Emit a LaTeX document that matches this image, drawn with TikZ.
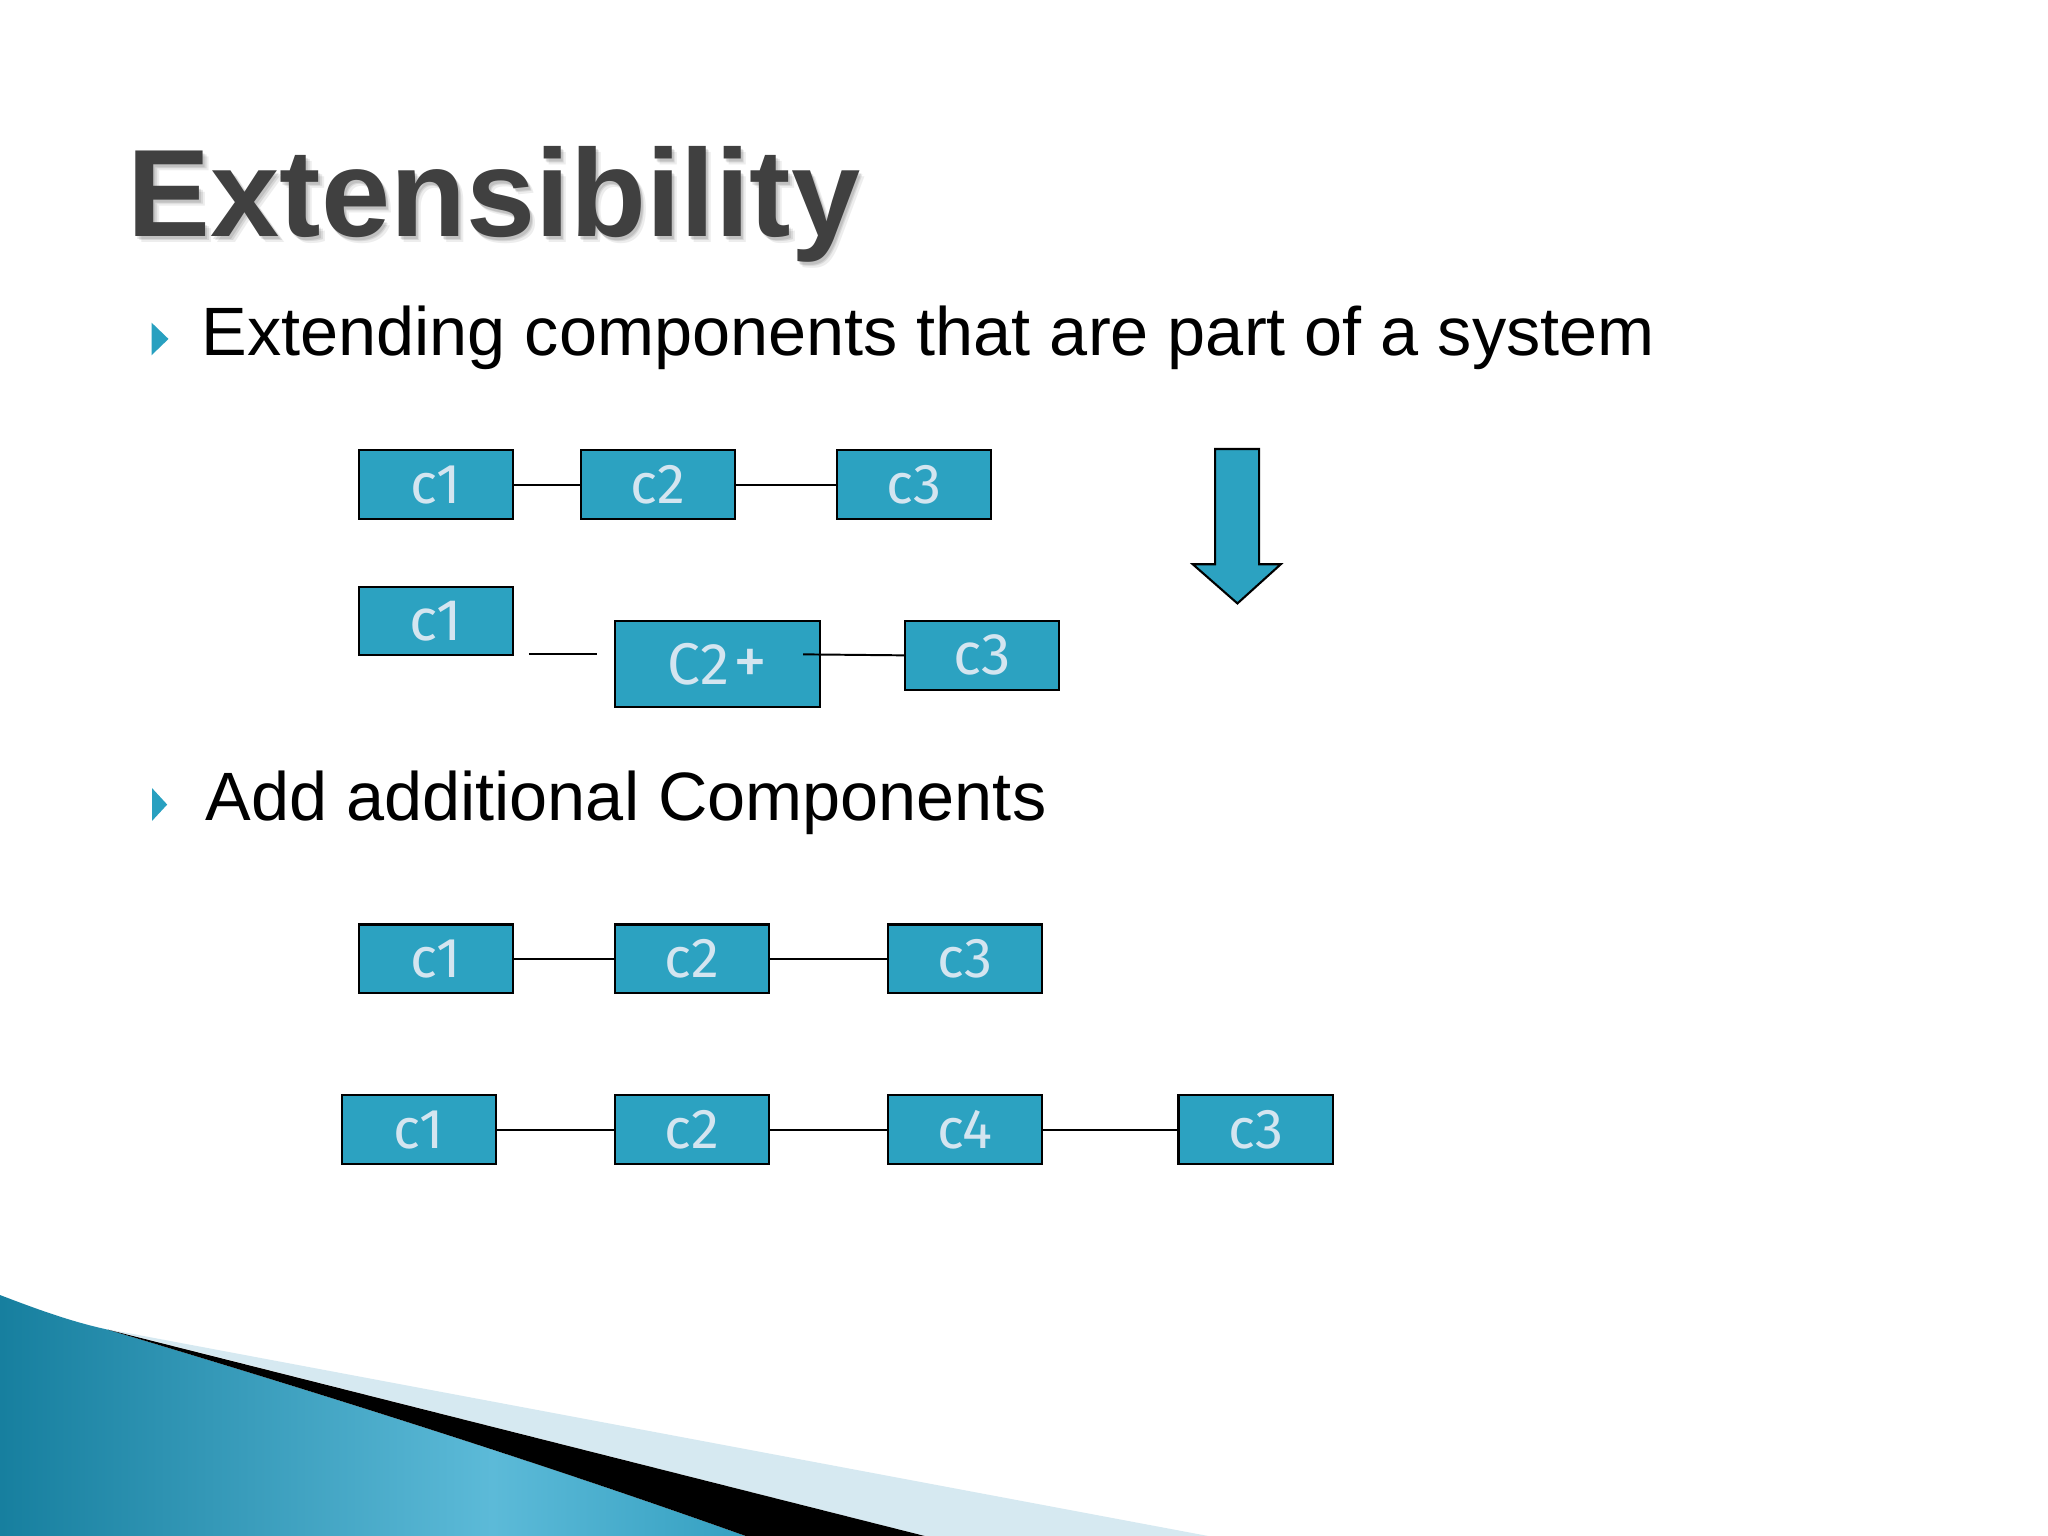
\documentclass[tikz,border=0pt]{standalone}
\usepackage{fontspec}
\setmainfont{Liberation Sans}
\newfontfamily\boxfont{Fira Sans}
\definecolor{boxblue}{RGB}{44,162,193}
\definecolor{boxtext}{RGB}{212,229,240}
\definecolor{bulletblue}{RGB}{40,160,192}
\definecolor{titlegray}{RGB}{64,64,64}
\definecolor{swA}{RGB}{12,118,150}
\definecolor{swB}{RGB}{92,186,216}
\definecolor{swC}{RGB}{30,145,180}
\definecolor{swD}{RGB}{22,132,168}
\definecolor{lightband}{RGB}{214,233,241}
\pgfdeclarehorizontalshading{swoosh}{100bp}{color(0bp)=(swA); color(20bp)=(swA); color(58bp)=(swB); color(85bp)=(swC); color(100bp)=(swD)}
\begin{document}
\begin{tikzpicture}[x=0.5pt,y=-0.5pt,
  comp/.style={draw=black,line width=0.8pt,fill=boxblue,text=boxtext,
    font=\boxfont\fontsize{21.5}{24}\selectfont,
    minimum width=59pt,minimum height=26.25pt,inner sep=0pt,anchor=north west},
  bigcomp/.style={comp,minimum width=78.5pt,minimum height=32.8pt},
  link/.style={draw=black,line width=0.75pt},
  bodytext/.style={font=\fontsize{26.2}{31}\selectfont,anchor=base west,inner sep=0pt,text=black},
  titletext/.style={font=\bfseries\fontsize{47.6}{56}\selectfont,anchor=base west,inner sep=0pt}]
\useasboundingbox (0,0) rectangle (1568,1176);
\fill[white] (0,0) rectangle (1568,1176);

% bottom swoosh
\shade[shading=swoosh] (0,991.5) .. controls (30,1003) and (55,1012) .. (82.5,1018)
  .. controls (250,1068) and (420,1122) .. (571,1176) -- (0,1176) -- cycle;
\fill[lightband] (84,1018) -- (925,1176) -- (708,1176) -- cycle;
\fill[black] (82.5,1018) -- (708,1176) -- (571,1176) .. controls (420,1122) and (250,1068) .. (82.5,1018) -- cycle;

% title with soft shadow
\node[titletext,text=black,opacity=0.07] (tsh1) at (101.5,186) {Extensibility};
\node[titletext,text=black,opacity=0.09] (tsh2) at (100,184.5) {Extensibility};
\node[titletext,text=black,opacity=0.10] (tsh3) at (99,183) {Extensibility};
\node[titletext,text=titlegray] (title) at (97.5,181) {Extensibility};

% bullets
\fill[bulletblue] (116,247) -- (129,259.5) -- (116,272) -- cycle;
\node[bodytext] (b1) at (154,272) {Extending components that are part of a system};
\fill[bulletblue] (116.5,603.5) -- (128,616) -- (116.5,628.4) -- cycle;
\node[bodytext] (b2) at (157,628.5) {Add additional Components};

% row 1
\node[comp] (r1c1) at (274,344) {c1};
\node[comp] (r1c2) at (444,344) {c2};
\node[comp] (r1c3) at (640,344) {c3};
\draw[link] (r1c1.east) -- (r1c2.west);
\draw[link] (r1c2.east) -- (r1c3.west);

% down arrow
\filldraw[fill=boxblue,draw=black,line width=0.8pt]
  (930.3,343.8) -- (964,343.8) -- (964,432) -- (980.6,432) -- (947.4,462)
  -- (913.2,432) -- (930.3,432) -- cycle;

% row 2
\node[comp,font=\boxfont\fontsize{22.5}{24}\selectfont] (r2c1) at (274,448.5) {c1};
\node[bigcomp,font=\boxfont\fontsize{22.5}{24}\selectfont] (r2c2) at (470,474.7) {C2\kern1.5pt{\fontsize{26}{26}\selectfont+}};
\node[comp,font=\boxfont\fontsize{22.5}{24}\selectfont] (r2c3) at (692.3,474.7) {c3};
\coordinate (g1) at (405,501);
\coordinate (g2) at (457,501);
\coordinate (g3) at (614.8,501);
\draw[link] (g1) -- (g2);
\draw[link] (g3) -- (r2c3.west);

% row 3
\node[comp] (r3c1) at (274,707) {c1};
\node[comp] (r3c2) at (470,707) {c2};
\node[comp] (r3c3) at (679,707) {c3};
\draw[link] (r3c1.east) -- (r3c2.west);
\draw[link] (r3c2.east) -- (r3c3.west);

% row 4
\node[comp] (r4c1) at (260.8,837.8) {c1};
\node[comp] (r4c2) at (470,837.8) {c2};
\node[comp] (r4c4) at (679,837.8) {c4};
\node[comp] (r4c3) at (901.5,837.8) {c3};
\draw[link] (r4c1.east) -- (r4c2.west);
\draw[link] (r4c2.east) -- (r4c4.west);
\draw[link] (r4c4.east) -- (r4c3.west);
\end{tikzpicture}
\end{document}
